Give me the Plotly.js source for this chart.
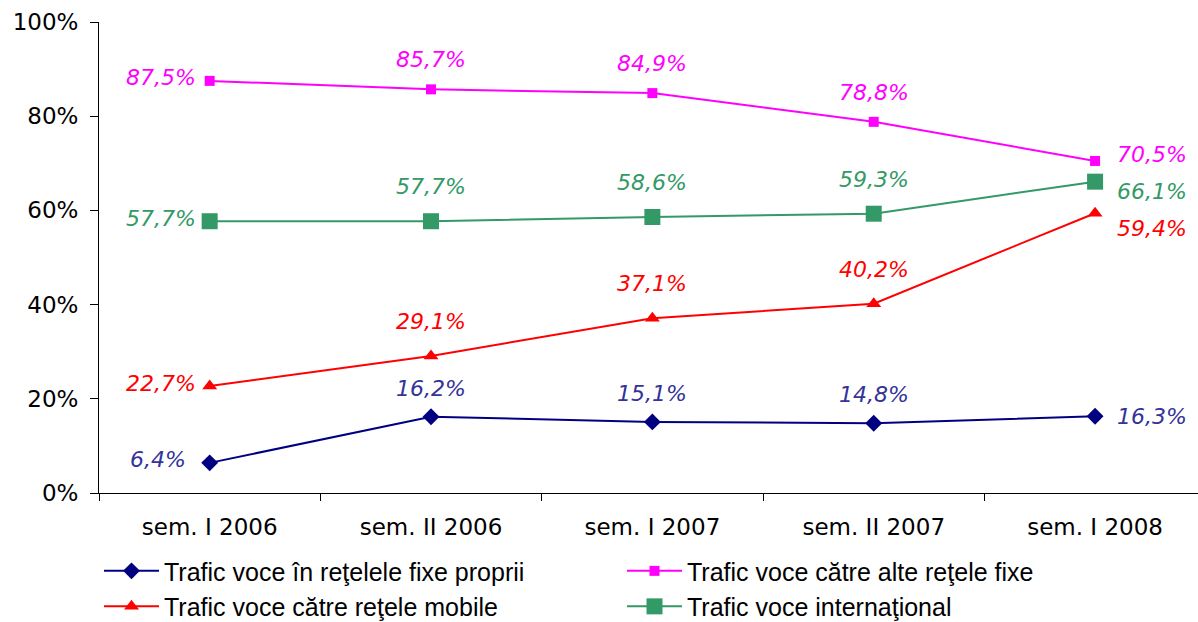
<!DOCTYPE html>
<html><head><meta charset="utf-8">
<script src="https://cdn.plot.ly/plotly-3.0.1.min.js"></script>
<style>body{margin:0;background:#fff}#c{width:1198px;height:622px}</style>
</head><body><div id="c"></div>
<script>
const categories = ["sem. I 2006","sem. II 2006","sem. I 2007","sem. II 2007","sem. I 2008"];
const fixeProprii = [6.4, 16.2, 15.1, 14.8, 16.3];
const alteFixe = [87.5, 85.7, 84.9, 78.8, 70.5];
const mobile = [22.7, 29.1, 37.1, 40.2, 59.4];
const international = [57.7, 57.7, 58.6, 59.3, 66.1];
const names = ["Trafic voce în reţelele fixe proprii","Trafic voce către alte reţele fixe","Trafic voce către reţele mobile","Trafic voce internaţional"];

const series = [
  {name:names[0], y:fixeProprii, line:"#000080", label:"#333399", symbol:"diamond", size:13, firstShift:-22, midShift:14, lastShift:0},
  {name:names[1], y:alteFixe, line:"#FF00FF", label:"#FF00FF", symbol:"square", size:10, firstShift:-12, midShift:15, lastShift:6},
  {name:names[2], y:mobile, line:"#FF0000", label:"#FF0000", symbol:"triangle-up", size:13, firstShift:-12, midShift:20, lastShift:-15},
  {name:names[3], y:international, line:"#339966", label:"#339966", symbol:"square", size:16, firstShift:-12, midShift:20, lastShift:-10}
];

const traces = series.map(s => ({
  type:"scatter", mode:"lines+markers", x:categories, y:s.y, name:s.name,
  line:{color:s.line, width:2}, marker:{color:s.line, symbol:s.symbol, size:s.size},
  cliponaxis:false
}));

const fmt = v => v.toFixed(1).replace(".", ",") + "%";
const annotations = [];
series.forEach(s => {
  s.y.forEach((v, i) => {
    const a = {x:categories[i], y:v, text:fmt(v), showarrow:false,
      font:{family:"DejaVu Sans, Verdana, sans-serif", size:22, color:s.label, style:"italic"}};
    if (i === 0) { a.xanchor = "right"; a.yanchor = "middle"; a.xshift = s.firstShift; a.yshift = 3; }
    else if (i === s.y.length - 1) { a.xanchor = "left"; a.yanchor = "middle"; a.xshift = 20; a.yshift = s.lastShift; }
    else { a.xanchor = "center"; a.yanchor = "bottom"; a.yshift = s.midShift; }
    annotations.push(a);
  });
});

const layout = {
  width:1198, height:622,
  margin:{l:99, r:0, t:22, b:129, autoexpand:false},
  paper_bgcolor:"#fff", plot_bgcolor:"#fff",
  showlegend:true,
  font:{family:"DejaVu Sans, Verdana, sans-serif", size:23, color:"#000"},
  xaxis:{type:"category", range:[-0.5, 4.465], showgrid:false, zeroline:false,
    showline:true, linecolor:"#000", linewidth:1, ticks:"outside", tickson:"boundaries",
    ticklen:7, tickcolor:"#000", tickfont:{size:23}, ticklabelstandoff:13, automargin:false},
  yaxis:{range:[0, 100], dtick:20, ticksuffix:"%", showgrid:false, zeroline:false,
    showline:true, linecolor:"#000", linewidth:1, ticks:"outside", ticklen:8, tickcolor:"#000",
    tickfont:{size:23}, ticklabelstandoff:7, automargin:false},
  legend:{orientation:"h", x:0, xanchor:"left", y:-0.117, yanchor:"top",
    entrywidth:453, entrywidthmode:"pixels", tracegroupgap:0, itemwidth:55,
    font:{family:"Liberation Sans, Arial, sans-serif", size:25, color:"#000"}},
  annotations:annotations
};

Plotly.newPlot("c", traces, layout, {displayModeBar:false, staticPlot:true});
</script></body></html>
